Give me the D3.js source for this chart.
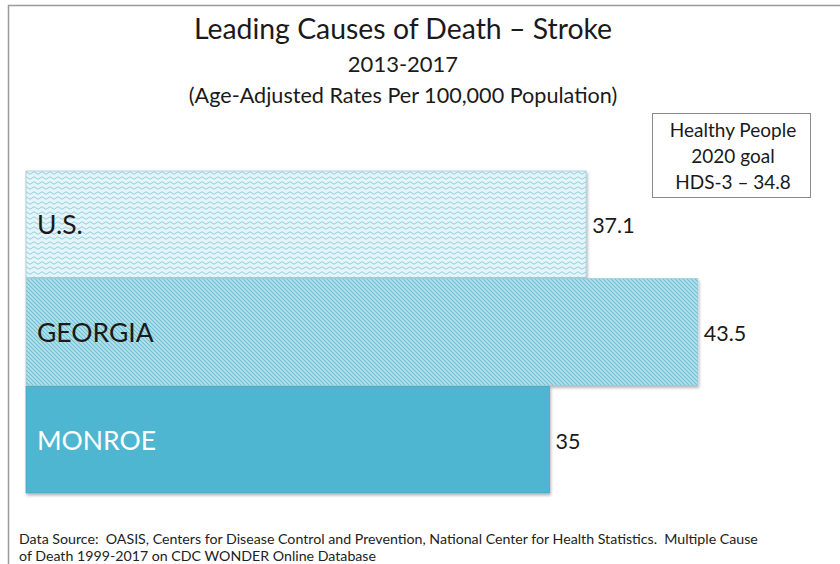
<!DOCTYPE html>
<html>
<head>
<meta charset="utf-8">
<script src="https://cdn.jsdelivr.net/npm/d3@7"></script>
<style>
  body { margin: 0; background: #fff; }
  text { font-family: Lato, "Open Sans", sans-serif; fill: #1a1a1a; white-space: pre; }
</style>
</head>
<body>
<script>
(function () {

  // Bars, top to bottom
  let categories = ['U.S.', 'GEORGIA', 'MONROE'];
  let values     = [37.1, 43.5, 35];

  let titleLines = ['Leading Causes of Death \u2013 Stroke', '2013-2017', '(Age-Adjusted Rates Per 100,000 Population)'];
  let goalLines  = ['Healthy People', '2020 goal', 'HDS-3 \u2013 34.8'];
  let sourceLines = [
    'Data Source:  OASIS, Centers for Disease Control and Prevention, National Center for Health Statistics.  Multiple Cause',
    'of Death 1999-2017 on CDC WONDER Online Database'
  ];

  let width = 840, height = 564;

  let svg = d3.select('body').append('svg')
      .attr('width', width)
      .attr('height', height);

  let defs = svg.append('defs');

  // wavy pattern for U.S.
  let wave = defs.append('pattern')
      .attr('id', 'wave')
      .attr('patternUnits', 'userSpaceOnUse')
      .attr('width', 8).attr('height', 5);
  wave.append('rect').attr('width', 8).attr('height', 5).attr('fill', '#e4f4f8');
  wave.append('path')
      .attr('d', 'M0,3 Q2,0.5 4,3 T8,3')
      .attr('fill', 'none')
      .attr('stroke', '#92cfe0')
      .attr('stroke-width', 1);

  // diagonal stripes for GEORGIA
  let diag = defs.append('pattern')
      .attr('id', 'diag')
      .attr('patternUnits', 'userSpaceOnUse')
      .attr('width', 4).attr('height', 4);
  diag.append('rect').attr('width', 4).attr('height', 4).attr('fill', '#b4e2ec');
  diag.append('path')
      .attr('d', 'M-1,-1 L5,5 M-1,3 L1,5 M3,-1 L5,1')
      .attr('stroke', '#6fbfd4')
      .attr('stroke-width', 1.1);

  let fills = ['url(#wave)', 'url(#diag)', '#4fb6d1'];
  let labelColors = ['#1a1a1a', '#1a1a1a', '#ffffff'];

  let shadow = defs.append('filter').attr('id', 'shadow')
      .attr('x', '-5%').attr('y', '-5%').attr('width', '110%').attr('height', '115%');
  shadow.append('feDropShadow')
      .attr('dx', 1).attr('dy', 2).attr('stdDeviation', 1.5)
      .attr('flood-color', '#000').attr('flood-opacity', 0.3);

  // frame
  svg.append('path')
      .attr('d', 'M8.5,' + height + ' V5.5 H' + width)
      .attr('fill', 'none')
      .attr('stroke', '#9a9a9a')
      .attr('stroke-width', 1.5);

  // Titles
  let title = svg.append('g').attr('text-anchor', 'middle');
  title.append('text').attr('x', 403).attr('y', 39).style('font-size', '28.4px').text(titleLines[0]);
  title.append('text').attr('x', 403).attr('y', 72).style('font-size', '22px').text(titleLines[1]);
  title.append('text').attr('x', 403).attr('y', 103).style('font-size', '21.6px').text(titleLines[2]);

  // Scales
  let x = d3.scaleLinear().domain([5, 45]).range([26, 724]);
  let y = d3.scaleBand().domain(categories).range([171, 493]).paddingInner(0.01);

  let bars = svg.append('g').selectAll('g.bar')
      .data(categories)
      .enter().append('g')
      .attr('class', 'bar');

  bars.append('rect')
      .attr('x', x(5))
      .attr('y', d => y(d))
      .attr('width', (d, i) => x(values[i]) - x(5))
      .attr('height', y.bandwidth())
      .attr('fill', (d, i) => fills[i])
      .attr('stroke', (d, i) => i == 2 ? '#47a9c4' : '#9cc9d6')
      .attr('stroke-width', 0.8)
      .attr('filter', 'url(#shadow)');

  bars.append('text')
      .attr('x', 37)
      .attr('y', d => y(d) + y.bandwidth() / 2 + 10)
      .style('font-size', '26.5px')
      .style('fill', (d, i) => labelColors[i])
      .text(d => d);

  bars.append('text')
      .attr('x', (d, i) => x(values[i]) + 6)
      .attr('y', d => y(d) + y.bandwidth() / 2 + 9)
      .style('font-size', '21.5px')
      .text((d, i) => values[i]);

  // goal box
  let box = svg.append('g');
  box.append('rect')
      .attr('x', 652.5).attr('y', 113.5)
      .attr('width', 158).attr('height', 84)
      .attr('fill', '#fff')
      .attr('stroke', '#8a8a8a')
      .attr('stroke-width', 1);
  box.selectAll('text').data(goalLines).enter().append('text')
      .attr('x', 733)
      .attr('y', (d, i) => 137 + i * 26)
      .attr('text-anchor', 'middle')
      .style('font-size', '19px')
      .text(d => d);

  // source
  svg.append('g').selectAll('text').data(sourceLines).enter().append('text')
      .attr('x', 19)
      .attr('y', (d, i) => 544 + i * 17)
      .style('font-size', '14.2px')
      .style('fill', '#222')
      .text(d => d);

})();
</script>
</body>
</html>
